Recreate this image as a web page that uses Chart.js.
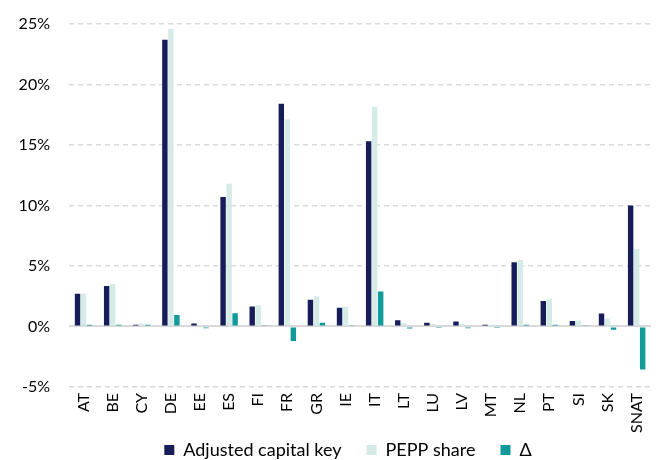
<!DOCTYPE html>
<html>
<head>
<meta charset="utf-8">
<script src="https://cdn.jsdelivr.net/npm/chart.js@4"></script>
<style>
    html, body { margin: 0; padding: 0; background: #ffffff; }
    #wrap { width: 662px; height: 460px; }
</style>
</head>
<body>
<div id="wrap"><canvas id="shareChart"></canvas></div>
<script>
const countries = ['AT', 'BE', 'CY', 'DE', 'EE', 'ES', 'FI', 'FR', 'GR', 'IE', 'IT', 'LT', 'LU', 'LV', 'MT', 'NL', 'PT', 'SI', 'SK', 'SNAT'];
const capitalKey = [2.7, 3.35, 0.15, 23.7, 0.25, 10.7, 1.65, 18.4, 2.2, 1.55, 15.3, 0.52, 0.3, 0.4, 0.15, 5.3, 2.1, 0.45, 1.07, 10.0];
const peppShare = [2.7, 3.5, 0.25, 24.6, 0.1, 11.8, 1.75, 17.1, 2.5, 1.65, 18.15, 0.3, 0.2, 0.2, 0.15, 5.5, 2.3, 0.5, 0.65, 6.4];
const deltaShare = [0.15, 0.15, 0.15, 0.95, -0.15, 1.1, 0.1, -1.2, 0.3, 0.1, 2.9, -0.17, -0.05, -0.15, -0.05, 0.15, 0.15, 0.1, -0.28, -3.55];
const yTicks = [-5, 0, 5, 10, 15, 20, 25];

const fontFamily = 'Lato, "Open Sans", sans-serif';

// nudge the legend row to the right so it sits under the plot
const legendShift = {
    id: 'legendShift',
    afterLayout(chart) {
        if (chart.legend) {
            chart.legend.left += 15;
            chart.legend.right += 15;
        }
    }
};

const ctx = document.getElementById('shareChart');

new Chart(ctx, {
    type: 'bar',
    data: {
        labels: countries,
        datasets: [
            {
                label: 'Adjusted capital key',
                data: capitalKey,
                backgroundColor: '#161d58'
            },
            {
                label: 'PEPP share',
                data: peppShare,
                backgroundColor: '#d4ebe7'
            },
            {
                label: 'Δ',
                data: deltaShare,
                backgroundColor: '#119a9c'
            }
        ]
    },
    plugins: [legendShift],
    options: {
        responsive: true,
        maintainAspectRatio: false,
        animation: false,
        layout: {
            // legend reserves 10px of blank space under its row; pull it down
            padding: { top: 24, right: 6, left: 10, bottom: -9 }
        },
        datasets: {
            bar: {
                categoryPercentage: 0.62,
                barPercentage: 0.9
            }
        },
        plugins: {
            legend: {
                position: 'bottom',
                labels: {
                    boxWidth: 10,
                    boxHeight: 10,
                    padding: 2,
                    color: '#000000',
                    font: { family: fontFamily, size: 18 },
                    // extra spaces widen the gap between legend entries
                    generateLabels: function(chart) {
                        const items = Chart.defaults.plugins.legend.labels.generateLabels(chart);
                        items.forEach((item, i) => {
                            if (i < items.length - 1) item.text = item.text + '     ';
                        });
                        return items;
                    }
                }
            },
            tooltip: { enabled: false }
        },
        scales: {
            y: {
                min: -5,
                max: 25,
                afterBuildTicks: function(axis) {
                    axis.ticks = yTicks.map(v => ({ value: v }));
                },
                // fixed axis width so the plot starts at x = 69
                afterFit: function(axis) {
                    axis.width = 59;
                    axis.paddingTop = 0;
                },
                ticks: {
                    color: '#000000',
                    padding: 19,
                    font: { family: fontFamily, size: 16 },
                    callback: function(value) {
                        return value + '%';
                    }
                },
                grid: {
                    drawTicks: false,
                    color: '#d9d9d9',
                    lineWidth: function(context) {
                        return context.tick && context.tick.value === 0 ? 2 : 1.5;
                    }
                },
                border: {
                    display: false,
                    dash: function(context) {
                        return context.tick && context.tick.value === 0 ? [] : [5, 4];
                    }
                }
            },
            x: {
                ticks: {
                    color: '#000000',
                    minRotation: 90,
                    maxRotation: 90,
                    padding: 6,
                    autoSkip: false,
                    font: { family: fontFamily, size: 16 }
                },
                grid: {
                    display: false,
                    drawTicks: false
                },
                border: {
                    display: false
                }
            }
        }
    }
});
</script>
</body>
</html>
